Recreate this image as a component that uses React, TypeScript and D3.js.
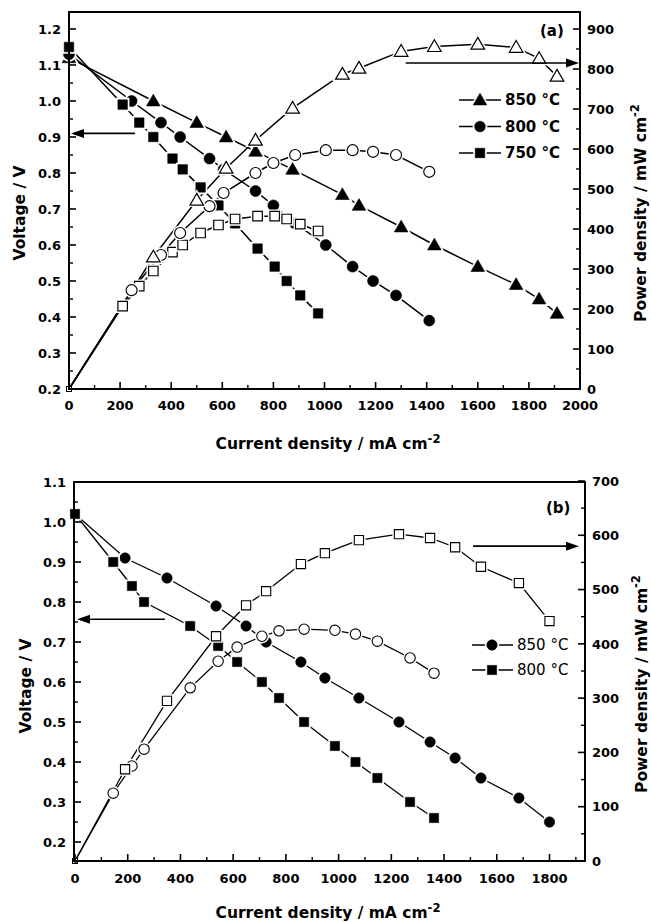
import React from "react";
import * as d3 from "d3";

// ---------- Panel (a) data ----------
const aI850 = [0, 330, 500, 615, 730, 875, 1070, 1135, 1300, 1430, 1600, 1750, 1840, 1910];
const aV850 = [1.12, 1.0, 0.94, 0.9, 0.86, 0.81, 0.74, 0.71, 0.65, 0.6, 0.54, 0.49, 0.45, 0.41];
const aP850 = [0, 330, 472, 552, 622, 702, 787, 802, 844, 856, 862, 854, 826, 782];

const aI800 = [0, 245, 360, 435, 550, 605, 730, 800, 885, 1005, 1110, 1190, 1280, 1410];
const aV800 = [1.13, 1.0, 0.94, 0.9, 0.84, 0.81, 0.75, 0.71, 0.66, 0.6, 0.54, 0.5, 0.46, 0.39];
const aP800 = [0, 247, 335, 390, 457, 490, 540, 565, 585, 597, 597, 593, 585, 543];

const aI750 = [0, 210, 275, 330, 405, 445, 515, 585, 650, 738, 805, 852, 905, 975];
const aV750 = [1.15, 0.99, 0.94, 0.9, 0.84, 0.81, 0.76, 0.71, 0.66, 0.59, 0.54, 0.5, 0.46, 0.41];
const aP750 = [0, 207, 257, 295, 342, 360, 390, 410, 425, 432, 432, 425, 412, 395];

const aXTicks = [0, 200, 400, 600, 800, 1000, 1200, 1400, 1600, 1800, 2000];
const aVTicks = [0.2, 0.3, 0.4, 0.5, 0.6, 0.7, 0.8, 0.9, 1.0, 1.1, 1.2];
const aPTicks = [0, 100, 200, 300, 400, 500, 600, 700, 800, 900];
const aLegend = ["850 °C", "800 °C", "750 °C"];

// ---------- Panel (b) data ----------
const bI850 = [0, 190, 349, 535, 649, 725, 857, 948, 1077, 1229, 1347, 1442, 1540, 1684, 1800];
const bV850 = [1.02, 0.91, 0.86, 0.79, 0.74, 0.7, 0.65, 0.61, 0.56, 0.5, 0.45, 0.41, 0.36, 0.31, 0.25];
const bP850 = [0, 169, 295, 414, 471, 497, 547, 567, 591, 602, 595, 578, 542, 512, 442];

const bI800 = [0, 145, 216, 262, 437, 543, 615, 709, 774, 869, 986, 1064, 1147, 1271, 1362];
const bV800 = [1.02, 0.9, 0.84, 0.8, 0.74, 0.69, 0.65, 0.6, 0.56, 0.5, 0.44, 0.4, 0.36, 0.3, 0.26];
const bP800 = [0, 125, 175, 206, 319, 368, 394, 414, 424, 427, 425, 418, 405, 374, 346];

const bXTicks = [0, 200, 400, 600, 800, 1000, 1200, 1400, 1600, 1800];
const bVTicks = [0.2, 0.3, 0.4, 0.5, 0.6, 0.7, 0.8, 0.9, 1.0, 1.1];
const bPTicks = [0, 100, 200, 300, 400, 500, 600, 700];
const bLegend = ["850 °C", "800 °C"];

const FONT = "'DejaVu Sans', Verdana, sans-serif";

type Shape = "triangle" | "circle" | "square";
const symType: Record<Shape, d3.SymbolType> = {
  triangle: d3.symbolTriangle,
  circle: d3.symbolCircle,
  square: d3.symbolSquare,
};

function Marker({ shape, x, y, filled, size, sw }: any) {
  const d = d3.symbol().type(symType[shape as Shape]).size(size)() as string;
  const dy = shape === "triangle" ? 1 : 0;
  return (
    <g transform={`translate(${x},${y + dy})`}>
      <path d={d} fill="white" stroke="white" strokeWidth={4} />
      <path d={d} fill={filled ? "black" : "white"} stroke="black" strokeWidth={filled ? 0.6 : sw} />
    </g>
  );
}

function Series({ xs, ys, x, y, shape, filled, size, lw, skipFirst, sw }: any) {
  const line = d3
    .line<number>()
    .x((_, i) => x(xs[i]))
    .y((v) => y(v));
  return {
    line: <path d={line(ys) as string} fill="none" stroke="black" strokeWidth={lw} />,
    marks: (
      <g>
        {ys.map((v: number, i: number) =>
          skipFirst && i === 0 ? null : (
            <Marker key={i} shape={shape} x={x(xs[i])} y={y(v)} filled={filled} size={size} sw={sw} />
          )
        )}
      </g>
    ),
  };
}

function Arrow({ x1, x2, y }: any) {
  const dir = x2 > x1 ? 1 : -1;
  const hl = 13;
  const hw = 4.5;
  return (
    <g>
      <line x1={x1} x2={x2 - dir * hl} y1={y} y2={y} stroke="black" strokeWidth={1.6} />
      <path d={`M${x2},${y} L${x2 - dir * hl},${y - hw} L${x2 - dir * hl},${y + hw} Z`} fill="black" />
    </g>
  );
}

function Axes({ fr, x, yL, yR, xTicks, xMinor, vTicks, vMinor, pTicks, pMinor, tickFs, xLabY }: any) {
  const maj = 7;
  const min = 4;
  return (
    <g>
      <rect x={fr.left} y={fr.top} width={fr.right - fr.left} height={fr.bottom - fr.top} fill="none" stroke="black" strokeWidth={2} />
      {xTicks.map((t: number) => (
        <g key={"x" + t}>
          <line x1={x(t)} x2={x(t)} y1={fr.bottom} y2={fr.bottom - maj} stroke="black" strokeWidth={1.6} />
          <text x={x(t)} y={xLabY} textAnchor="middle" fontSize={tickFs} fontWeight="bold" fontFamily={FONT}>
            {t}
          </text>
        </g>
      ))}
      {xMinor.map((t: number) => (
        <line key={"xm" + t} x1={x(t)} x2={x(t)} y1={fr.bottom} y2={fr.bottom - min} stroke="black" strokeWidth={1.4} />
      ))}
      {vTicks.map((t: number) => (
        <g key={"v" + t}>
          <line x1={fr.left} x2={fr.left + maj} y1={yL(t)} y2={yL(t)} stroke="black" strokeWidth={1.6} />
          <text x={fr.left - 8} y={yL(t)} dy="0.36em" textAnchor="end" fontSize={tickFs} fontWeight="bold" fontFamily={FONT}>
            {d3.format(".1f")(t)}
          </text>
        </g>
      ))}
      {vMinor.map((t: number) => (
        <line key={"vm" + t} x1={fr.left} x2={fr.left + min} y1={yL(t)} y2={yL(t)} stroke="black" strokeWidth={1.4} />
      ))}
      {pTicks.map((t: number) => (
        <g key={"p" + t}>
          <line x1={fr.right} x2={fr.right - maj} y1={yR(t)} y2={yR(t)} stroke="black" strokeWidth={1.6} />
          <text x={fr.right + 7} y={yR(t)} dy="0.36em" textAnchor="start" fontSize={tickFs} fontWeight="bold" fontFamily={FONT}>
            {t}
          </text>
        </g>
      ))}
      {pMinor.map((t: number) => (
        <line key={"pm" + t} x1={fr.right} x2={fr.right - min} y1={yR(t)} y2={yR(t)} stroke="black" strokeWidth={1.4} />
      ))}
    </g>
  );
}

function Titles({ vx, vy, px, py, cx, cy, fs }: any) {
  return (
    <g fontFamily={FONT} fontWeight="bold" fontSize={fs}>
      <text transform={`translate(${vx},${vy}) rotate(-90)`} textAnchor="middle" dy="0.36em">
        Voltage / V
      </text>
      <text transform={`translate(${px},${py}) rotate(-90)`} textAnchor="middle" dy="0.36em">
        Power density / mW cm<tspan dy="-0.55em" fontSize={fs * 0.75}>-2</tspan>
      </text>
      <text x={cx} y={cy} textAnchor="middle">
        Current density / mA cm<tspan dy="-0.55em" fontSize={fs * 0.75}>-2</tspan>
      </text>
    </g>
  );
}

export default function App() {
  // ----- panel (a) scales -----
  const frA = { left: 69, right: 580, top: 12, bottom: 389 };
  const xA = d3.scaleLinear().domain([0, 2000]).range([69, 580]);
  const yAL = d3.scaleLinear().domain([0.2, 1.2]).range([389, 29]);
  const yAR = d3.scaleLinear().domain([0, 900]).range([389, 29]);

  // ----- panel (b) scales -----
  const frB = { left: 74, right: 585, top: 482, bottom: 861 };
  const xB = d3.scaleLinear().domain([0, 1800]).range([75, 549.5]);
  const yBL = d3.scaleLinear().domain([0.2, 1.1]).range([842, 482]);
  const yBR = d3.scaleLinear().domain([0, 700]).range([861, 481]);

  const lwA = 1.5;
  const lwB = 1.3;

  const a850 = Series({ xs: aI850, ys: aV850, x: xA, y: yAL, shape: "triangle", filled: true, size: 80, lw: lwA });
  const a800 = Series({ xs: aI800, ys: aV800, x: xA, y: yAL, shape: "circle", filled: true, size: 95, lw: lwA });
  const a750 = Series({ xs: aI750, ys: aV750, x: xA, y: yAL, shape: "square", filled: true, size: 90, lw: lwA });
  const aP8 = Series({ xs: aI850, ys: aP850, x: xA, y: yAR, shape: "triangle", filled: false, size: 80, lw: lwA, skipFirst: true, sw: 1.2 });
  const aP7 = Series({ xs: aI800, ys: aP800, x: xA, y: yAR, shape: "circle", filled: false, size: 95, lw: lwA, skipFirst: true, sw: 1.2 });
  const aP6 = Series({ xs: aI750, ys: aP750, x: xA, y: yAR, shape: "square", filled: false, size: 90, lw: lwA, skipFirst: true, sw: 1.2 });

  const b850 = Series({ xs: bI850, ys: bV850, x: xB, y: yBL, shape: "circle", filled: true, size: 85, lw: lwB });
  const b800 = Series({ xs: bI800, ys: bV800, x: xB, y: yBL, shape: "square", filled: true, size: 85, lw: lwB });
  const bP8 = Series({ xs: bI850, ys: bP850, x: xB, y: yBR, shape: "square", filled: false, size: 85, lw: lwB, skipFirst: true, sw: 1.1 });
  const bP7 = Series({ xs: bI800, ys: bP800, x: xB, y: yBR, shape: "circle", filled: false, size: 85, lw: lwB, skipFirst: true, sw: 1.1 });

  const aLegShapes: Shape[] = ["triangle", "circle", "square"];
  const bLegShapes: Shape[] = ["circle", "square"];

  return (
    <svg width={651} height={922} style={{ position: "absolute", left: 0, top: 0, background: "white" }}>
      <rect x={0} y={0} width={651} height={922} fill="white" />

      {/* ===== Panel (a) ===== */}
      {a850.line}
      {a800.line}
      {a750.line}
      {aP8.line}
      {aP7.line}
      {aP6.line}
      {a850.marks}
      {a800.marks}
      {a750.marks}
      {aP6.marks}
      {aP7.marks}
      {aP8.marks}
      <rect x={xA(0) - 2.5} y={yAR(0) - 2.5} width={5} height={5} fill="white" stroke="black" strokeWidth={1} />
      <Arrow x1={xA(258)} x2={xA(0) + 2} y={yAL(0.91)} />
      <Arrow x1={xA(1318)} x2={xA(2000) - 1} y={yAR(815)} />
      <Axes
        fr={frA}
        x={xA}
        yL={yAL}
        yR={yAR}
        xTicks={aXTicks}
        xMinor={d3.range(100, 2000, 200)}
        vTicks={aVTicks}
        vMinor={d3.range(0.25, 1.21, 0.1)}
        pTicks={aPTicks}
        pMinor={d3.range(50, 901, 100)}
        tickFs={13}
        xLabY={410}
      />
      {aLegend.map((t, i) => (
        <g key={t}>
          <line x1={459} x2={501} y1={100 + i * 26.5} y2={100 + i * 26.5} stroke="black" strokeWidth={1.5} />
          <Marker shape={aLegShapes[i]} x={480} y={100 + i * 26.5} filled size={aLegShapes[i] === "triangle" ? 80 : 90} />
          <text x={505} y={100 + i * 26.5} dy="0.36em" fontSize={15} fontWeight="bold" fontFamily={FONT}>
            {t}
          </text>
        </g>
      ))}
      <text x={540} y={36} fontSize={15} fontWeight="bold" fontFamily={FONT}>
        (a)
      </text>
      <Titles vx={19} vy={213} px={640} py={213} cx={328} cy={449} fs={15.5} />

      {/* ===== Panel (b) ===== */}
      {b850.line}
      {b800.line}
      {bP8.line}
      {bP7.line}
      {b850.marks}
      {b800.marks}
      {bP7.marks}
      {bP8.marks}
      <rect x={xB(0) - 2.5} y={yBR(0) - 2.5} width={5} height={5} fill="white" stroke="black" strokeWidth={1} />
      <Arrow x1={xB(341)} x2={xB(0) + 2} y={yBL(0.757)} />
      <Arrow x1={xB(1510)} x2={frB.right - 6} y={yBR(580)} />
      <Axes
        fr={frB}
        x={xB}
        yL={yBL}
        yR={yBR}
        xTicks={bXTicks}
        xMinor={d3.range(100, 1901, 200)}
        vTicks={bVTicks}
        vMinor={d3.range(0.15, 1.06, 0.1)}
        pTicks={bPTicks}
        pMinor={d3.range(50, 651, 100)}
        tickFs={13}
        xLabY={883}
      />
      {bLegend.map((t, i) => (
        <g key={t}>
          <line x1={472} x2={513} y1={645 + i * 25} y2={645 + i * 25} stroke="black" strokeWidth={1.4} />
          <Marker shape={bLegShapes[i]} x={492} y={645 + i * 25} filled size={85} />
          <text x={517} y={645 + i * 25} dy="0.36em" fontSize={15} fontFamily={FONT}>
            {t}
          </text>
        </g>
      ))}
      <text x={546} y={513} fontSize={15} fontWeight="bold" fontFamily={FONT}>
        (b)
      </text>
      <Titles vx={25} vy={686} px={641} py={684} cx={328} cy={918} fs={15.5} />
    </svg>
  );
}
